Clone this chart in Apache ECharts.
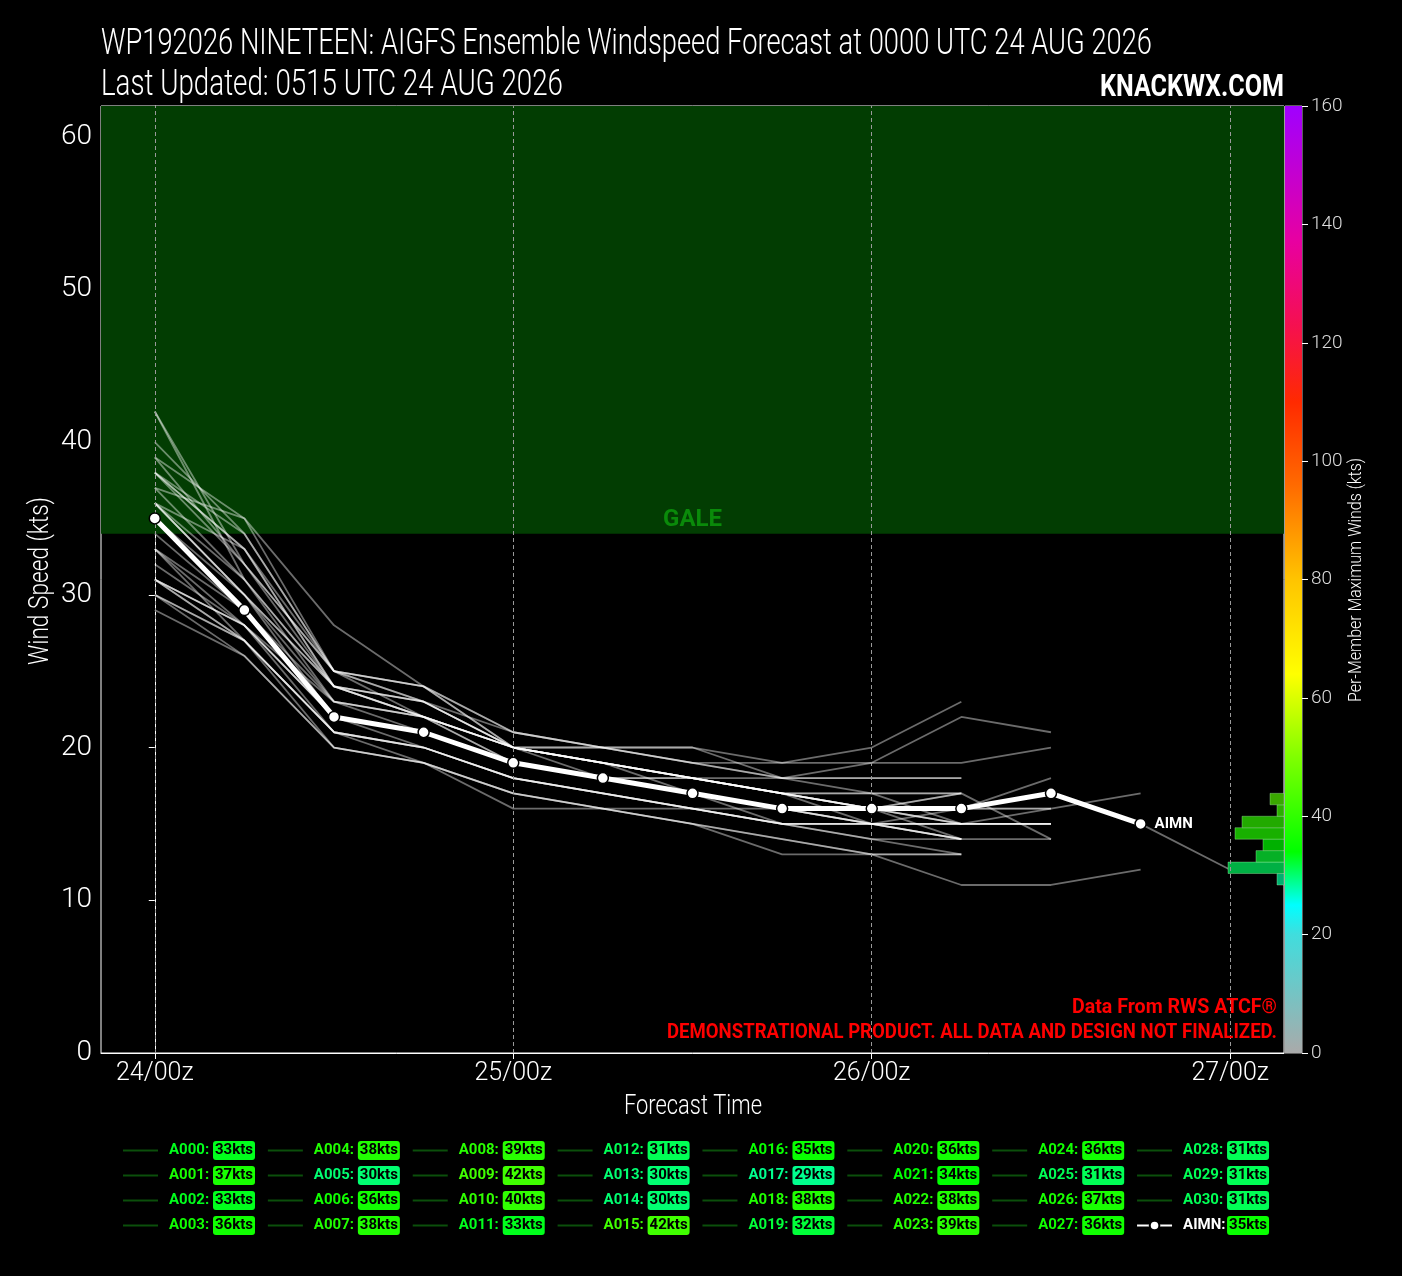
<!DOCTYPE html>
<html><head><meta charset="utf-8">
<script src="https://cdn.jsdelivr.net/npm/echarts@6/dist/echarts.min.js"></script>
<style>html,body{margin:0;padding:0;background:#000;}#c{width:1402px;height:1276px;}</style>
</head><body><div id="c"></div>
<script>
const FONT = "Roboto, 'DejaVu Sans', sans-serif";

// ---- data ----
const titleLine1 = 'WP192026 NINETEEN: AIGFS Ensemble Windspeed Forecast at 0000 UTC 24 AUG 2026';
const titleLine2 = 'Last Updated: 0515 UTC 24 AUG 2026';
const siteLabel = 'KNACKWX.COM';
const sourceLine = 'Data From RWS ATCF®';
const disclaimer = 'DEMONSTRATIONAL PRODUCT. ALL DATA AND DESIGN NOT FINALIZED.';
const xTitle = 'Forecast Time';
const yTitle = 'Wind Speed (kts)';
const cbTitle = 'Per-Member Maximum Winds (kts)';
const times = [0, 6, 12, 18, 24, 30, 36, 42, 48, 54, 60, 66, 72];
const xTickHours = [0, 24, 48, 72];
const xTickLabels = ['24/00z', '25/00z', '26/00z', '27/00z'];
const yTicks = [0, 10, 20, 30, 40, 50, 60];
const memberNames = ['A000','A001','A002','A003','A004','A005','A006','A007','A008','A009','A010','A011','A012','A013','A014','A015','A016','A017','A018','A019','A020','A021','A022','A023','A024','A025','A026','A027','A028','A029','A030'];
const memberMax = [33,37,33,36,38,30,36,38,39,42,40,33,31,30,30,42,35,29,38,32,36,34,38,39,36,31,37,36,31,31,31];
const memberWinds = [
  [33,29,23,22,20,19,18,17,16,15,15],
  [37,31,24,23,20,19,18,18,18,18],
  [33,28,22,21,19,18,17,16,15,14],
  [36,30,24,22,20,19,18,17,17,17,14],
  [38,33,25,24,21,20,19,18,17,15,15],
  [30,27,21,20,18,17,16,15,15,14],
  [36,31,23,22,19,18,17,16,16,16,16,17],
  [38,32,24,23,20,19,18,17,16,16,17,15,12],
  [39,35,28,24,21,20,20,19,20,23],
  [42,32,25,24,20,20,20,18,18,18],
  [40,34,25,23,21,20,19,19,19,22,21],
  [33,27,21,20,18,17,16,15,14,13],
  [31,28,22,20,18,17,16,15,15,15,15],
  [30,27,20,19,17,16,15,13,13,11,11,12],
  [30,26,20,19,16,16,16,15,15,14],
  [42,31,24,22,19,18,17,16,16,17],
  [35,30,23,21,19,18,18,17,15,16,18],
  [29,26,20,19,17,16,15,14,13,13],
  [38,33,24,22,20,19,18,17,17,17],
  [32,28,21,20,18,17,16,15,14,14],
  [36,33,24,23,20,20,19,18,19,19,20],
  [34,29,22,21,19,18,17,16,15,15,15],
  [38,34,25,24,20,19,18,17,16,15],
  [39,32,25,23,20,19,18,17,16,15,16],
  [36,30,22,21,19,18,18,17,16,16,16],
  [31,27,21,20,18,17,16,16,15,14,14],
  [37,35,25,22,20,19,17,16,15,15],
  [36,30,24,22,20,19,18,17,16,14],
  [31,28,22,21,19,18,17,16,16,17],
  [31,27,21,19,17,16,15,14,13,13],
  [31,28,23,22,20,18,17,15,15,15,15]
];
const meanName = 'AIMN';
const meanMax = 35;
const meanWinds = [35,29,22,21,19,18,17,16,16,16,17,15];
const galeLevel = 34;
const histEdges = [11, 11.75, 12.5, 13.25, 14, 14.75, 15.5, 16.25, 17];
const histCounts = [1, 8, 4, 3, 7, 6, 1, 2];
const histColors = ['#00b070', '#00b044', '#06b026', '#00b000', '#18b000', '#22aa00', '#2cae00', '#3aa800'];

// ---- colormap (style) ----
const cmapStops = [[0,[170,170,170]],[20,[64,221,221]],[25,[0,255,255]],[34,[0,255,0]],[50,[128,255,0]],[64,[255,255,0]],[80,[255,196,0]],[96,[255,106,0]],[110,[255,42,0]],[123,[245,16,80]],[137,[232,0,160]],[160,[160,0,255]]];
function cmap(v) {
  for (let i = 1; i < cmapStops.length; i++) {
    const [v1, c1] = cmapStops[i];
    const [v0, c0] = cmapStops[i - 1];
    if (v <= v1) {
      const t = (v - v0) / (v1 - v0);
      const c = c0.map((x, k) => Math.round(x + (c1[k] - x) * t));
      return `rgb(${c[0]},${c[1]},${c[2]})`;
    }
  }
  const c = cmapStops[cmapStops.length - 1][1];
  return `rgb(${c[0]},${c[1]},${c[2]})`;
}
const cbStops = cmapStops.map(([v, c]) => ({ offset: v / 160, color: `rgb(${c[0]},${c[1]},${c[2]})` }));

// ---- text fitting helper (condensed look) ----
const mctx = document.createElement('canvas').getContext('2d');
function fitScale(text, font, w) { mctx.font = font; return w / mctx.measureText(text).width; }
function fitText(text, font, w, x, y, fill, align, rotation) {
  return {
    type: 'text', x: x, y: y, rotation: rotation || 0, scaleX: fitScale(text, font, w), silent: true, z: 100,
    style: { text: text, font: font, fill: fill, align: align, verticalAlign: 'middle' }
  };
}

// ---- legend ----
const allNames = memberNames.concat([meanName]);
const allMax = memberMax.concat([meanMax]);
const rich = { s: { width: 6 }, e: { width: 8 } };
allNames.forEach((n, i) => {
  const col = cmap(allMax[i]);
  rich['n' + i] = { color: i === allNames.length - 1 ? '#fff' : col, width: 44, fontSize: 15, fontWeight: 'bold', fontFamily: FONT };
  rich['b' + i] = { backgroundColor: col, color: '#000', borderRadius: 3, padding: [2, 3], width: 36, align: 'center', fontSize: 15, fontWeight: 'bold', fontFamily: FONT };
});
const legendData = memberNames.map(n => ({ name: n, itemStyle: { opacity: 0 }, lineStyle: { color: '#0b4f0b', width: 2 } }));
legendData.push({ name: meanName });

// ---- series ----
const series = [];
series.push({
  name: 'bg', type: 'line', data: [], z: 1, silent: true,
  markArea: {
    silent: true,
    itemStyle: { color: '#023d02' },
    label: { show: true, position: 'insideBottom', distance: 2, color: '#0a8a0a', fontSize: 24, fontWeight: 'bold', fontFamily: FONT },
    data: [[{ yAxis: galeLevel, name: 'GALE' }, { yAxis: 62 }]]
  },
  markLine: {
    silent: true, symbol: 'none', label: { show: false },
    lineStyle: { color: '#9a9a9a', type: [4, 3], width: 1 },
    data: xTickHours.map(h => ({ xAxis: h }))
  }
});
memberWinds.forEach((w, i) => {
  series.push({
    name: memberNames[i], type: 'line', xAxisIndex: 0, yAxisIndex: 0,
    data: w.map((v, k) => [times[k], v]),
    symbol: 'none', silent: true, z: 3,
    lineStyle: { color: 'rgba(255,255,255,0.42)', width: 1.8 },
    emphasis: { disabled: true }
  });
});
series.push({
  name: meanName, type: 'line', xAxisIndex: 0, yAxisIndex: 0,
  data: meanWinds.map((v, k) => [times[k], v]),
  symbol: 'circle', symbolSize: 11, z: 6, silent: true,
  lineStyle: { color: '#fff', width: 5 },
  itemStyle: { color: '#fff', borderColor: '#000', borderWidth: 1.5 },
  endLabel: { show: true, formatter: 'AIMN', color: '#fff', fontWeight: 'bold', fontSize: 15, fontFamily: FONT, distance: 14 },
  emphasis: { disabled: true }
});
series.push({
  name: 'hist', type: 'custom', xAxisIndex: 1, yAxisIndex: 1, silent: true, z: 4,
  data: histCounts.map((c, i) => [histEdges[i], histEdges[i + 1], c, i]),
  renderItem: function (params, api) {
    const lo = api.value(0), hi = api.value(1), c = api.value(2), idx = api.value(3);
    const p0 = api.coord([0, hi]);
    const p1 = api.coord([c, lo]);
    return {
      type: 'rect',
      shape: { x: Math.min(p0[0], p1[0]), y: p0[1], width: Math.abs(p1[0] - p0[0]), height: p1[1] - p0[1] },
      style: { fill: histColors[idx], stroke: 'rgba(180,255,180,0.35)', lineWidth: 1 }
    };
  }
});
series.push({
  name: 'cbar', type: 'bar', xAxisIndex: 2, yAxisIndex: 2, silent: true,
  barWidth: '100%', data: [160],
  itemStyle: { color: new echarts.graphic.LinearGradient(0, 1, 0, 0, cbStops) }
});

const FT = "300 36px Roboto, 'DejaVu Sans', sans-serif";
const FB = "bold 32px Roboto, 'DejaVu Sans', sans-serif";
const FR = "bold 21px Roboto, 'DejaVu Sans', sans-serif";
const FA = "300 27px Roboto, 'DejaVu Sans', sans-serif";
const FC = "300 19px Roboto, 'DejaVu Sans', sans-serif";

const chart = echarts.init(document.getElementById('c'), null, { renderer: 'canvas' });
chart.setOption({
  backgroundColor: '#000',
  animation: false,
  textStyle: { fontFamily: FONT },
  graphic: [
    fitText(titleLine1, FT, 1051, 101, 45, '#fff', 'left'),
    fitText(titleLine2, FT, 462, 101, 86, '#fff', 'left'),
    fitText(siteLabel, FB, 184, 1284, 88, '#fff', 'right'),
    fitText(sourceLine, FR, 205, 1277, 1008, '#ff0000', 'right'),
    fitText(disclaimer, FR, 610, 1277, 1033, '#ff0000', 'right'),
    fitText(xTitle, FA, 138, 693, 1107, '#fff', 'center'),
    fitText(yTitle, FA, 168, 41, 581, '#fff', 'center', Math.PI / 2),
    fitText(cbTitle, FC, 244, 1356, 580, '#fff', 'center', Math.PI / 2)
  ],
  legend: {
    orient: 'vertical', left: 122, top: 1141, height: 100, padding: 0, itemGap: 6,
    itemWidth: 35, itemHeight: 12, selectedMode: false,
    data: legendData,
    formatter: function (name) {
      const i = allNames.indexOf(name);
      return '{s| }{n' + i + '|' + name + ':}{b' + i + '|' + allMax[i] + 'kts}{e| }';
    },
    textStyle: { fontFamily: FONT, fontSize: 15, fontWeight: 'bold', color: '#0f0', rich: rich }
  },
  grid: [
    { left: 101, top: 106, width: 1183, height: 947, show: true, backgroundColor: '#000', borderColor: '#fff', borderWidth: 1 },
    { left: 101, top: 106, width: 1183, height: 947, show: false },
    { left: 1285, top: 106, width: 17, height: 947, show: true, borderColor: '#bbb', borderWidth: 1 }
  ],
  xAxis: [
    {
      gridIndex: 0, type: 'value', min: -3.6, max: 75.6,
      axisLine: { show: true, lineStyle: { color: '#fff' } },
      axisTick: { show: true, customValues: xTickHours, length: 6, lineStyle: { color: '#fff' } },
      axisLabel: { customValues: xTickHours, color: '#fff', fontSize: 25, fontWeight: 300, margin: 8, fontFamily: FONT,
        formatter: v => xTickLabels[xTickHours.indexOf(v)] },
      splitLine: { show: false }
    },
    { gridIndex: 1, type: 'value', min: 0, max: 169, inverse: true, show: false },
    { gridIndex: 2, type: 'category', data: ['cb'], show: false }
  ],
  yAxis: [
    {
      gridIndex: 0, type: 'value', min: 0, max: 62,
      axisLine: { show: true, lineStyle: { color: '#fff' } },
      axisTick: { show: true, customValues: yTicks, length: 6, lineStyle: { color: '#fff' } },
      axisLabel: { customValues: yTicks, color: '#fff', fontSize: 28, fontWeight: 300, margin: 9, fontFamily: FONT },
      splitLine: { show: false }
    },
    { gridIndex: 1, type: 'value', min: 0, max: 62, show: false },
    {
      gridIndex: 2, type: 'value', position: 'right', min: 0, max: 160, interval: 20,
      axisLine: { show: false },
      axisTick: { show: true, length: 6, lineStyle: { color: '#fff' } },
      axisLabel: { color: '#ddd', fontSize: 19, fontWeight: 300, margin: 9, fontFamily: FONT },
      splitLine: { show: false }
    }
  ],
  series: series
});
</script>
</body></html>
